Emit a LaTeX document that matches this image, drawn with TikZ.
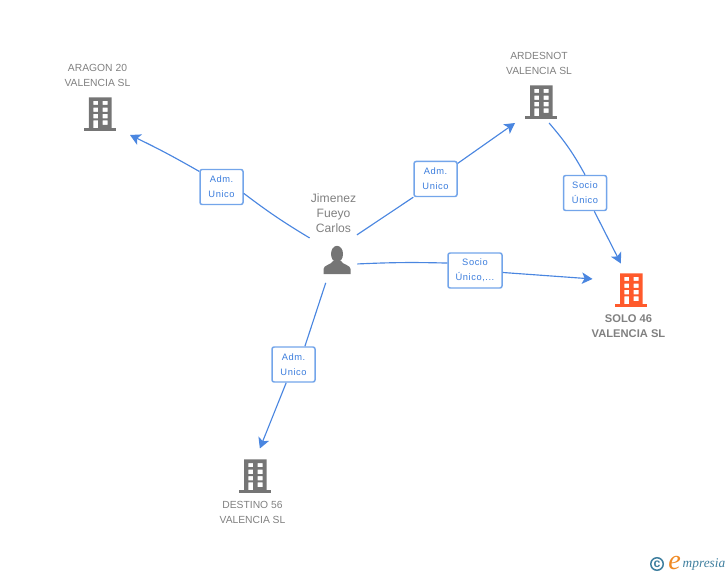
\documentclass[tikz,border=0pt]{standalone}
\usepackage{fontspec}
\setmainfont{Liberation Sans}
\newfontfamily\boxfont[LetterSpace=6]{Liberation Sans}
\newfontfamily\logofont{Liberation Serif}
\usepackage{tikz}
\usetikzlibrary{arrows.meta}
\definecolor{linkblue}{HTML}{4A86E0}
\definecolor{boxblue}{HTML}{73A5EA}
\definecolor{textblue}{HTML}{3B7DDD}
\definecolor{icongray}{HTML}{757575}
\definecolor{textgray}{HTML}{808080}
\definecolor{iconred}{HTML}{FF5A2C}
\definecolor{logoteal}{HTML}{3F7F9F}
\definecolor{logoorange}{HTML}{F08A24}
\tikzstyle{anchorpoint} = [rectangle, inner sep=0pt, outer sep=0pt]
\tikzstyle{building} = [rectangle, inner sep=0pt, outer sep=0pt, minimum width=1.2cm, minimum height=0.84cm]
\tikzstyle{company} = [rectangle, align=center, font=\fontsize{5.87pt}{8.5pt}\selectfont, text=textgray, inner sep=0pt]
\tikzstyle{mainCompany} = [rectangle, align=center, font=\fontsize{6.35pt}{8.5pt}\selectfont\bfseries, text=textgray, inner sep=0pt]
\tikzstyle{personName} = [rectangle, align=center, font=\fontsize{6.9pt}{8.5pt}\selectfont, text=textgray, inner sep=0pt]
\tikzstyle{role} = [rectangle, rounded corners=1.2pt, draw=boxblue, line width=0.85pt, fill=white, minimum width=0.86cm, minimum height=0.7cm, inner sep=0pt, align=center, text=textblue, font=\fontsize{5.3pt}{8.5pt}\boxfont]
\tikzstyle{edge} = [linkblue, line width=0.65pt]
\tikzstyle{edgeTip} = [linkblue, line width=0.65pt, -{Stealth[length=6pt, width=6.5pt, inset=1.5pt]}]
% icons are drawn in reference pixels around a node
\newcommand{\buildingicon}[2]{
\fill [#2, even odd rule, shift={(#1)}, x=0.02cm, y=-0.02cm] (-11,-16.7) rectangle (11.7,14.3)
  (-6.7,-13) rectangle (-2,-9) (2.7,-13) rectangle (7.7,-9)
  (-6.7,-6.3) rectangle (-2,-2) (2.7,-6.3) rectangle (7.7,-2)
  (-6.7,0) rectangle (-2,4.3) (2.7,0) rectangle (7.7,4.3)
  (-6.7,6.3) rectangle (-2,14.3) (2.7,6.3) rectangle (7.7,11);
\fill [#2, shift={(#1)}, x=0.02cm, y=-0.02cm] (-15.7,14.3) rectangle (16,16.7);
}
\newcommand{\personicon}[1]{
\fill [icongray, shift={(#1)}, x=0.02cm, y=-0.02cm] (0,-7) ellipse (6 and 8.2);
\fill [icongray, shift={(#1)}, x=0.02cm, y=-0.02cm] (-13.5,13) -- (-13.5,8) .. controls (-13.5,4) and (-6,4) .. (-4,0) -- (4,0) .. controls (6,4) and (13.5,4) .. (13.5,8) -- (13.5,13) -- cycle;
}
\begin{document}
\begin{tikzpicture}[node distance=1cm]
\useasboundingbox (0,0) rectangle (14.56,-11.5);
\node (person) [anchorpoint] at (6.74,-5.22) {};
\node (aragon) [building, below of=person, xshift=-4.74cm, yshift=3.94cm] {};
\node (ardesnot) [building, below of=person, xshift=4.08cm, yshift=4.18cm] {};
\node (solo) [building, minimum width=1.54cm, minimum height=1.06cm, below of=person, xshift=5.88cm, yshift=0.42cm] {};
\node (destino) [building, minimum height=1.1cm, below of=person, xshift=-1.64cm, yshift=-3.3cm] {};
\node (personName) [personName, below of=person, xshift=-0.07cm, yshift=1.96cm] {Jimenez\\Fueyo\\Carlos};
\node (aragonName) [company, below of=aragon, xshift=-0.05cm, yshift=1.78cm] {ARAGON 20\\VALENCIA SL};
\node (ardesnotName) [company, below of=ardesnot, xshift=-0.04cm, yshift=1.77cm] {ARDESNOT\\VALENCIA SL};
\node (soloName) [mainCompany, below of=solo, xshift=-0.05cm, yshift=0.28cm] {SOLO 46\\VALENCIA SL};
\node (destinoName) [company, below of=destino, xshift=-0.05cm, yshift=0.28cm] {DESTINO 56\\VALENCIA SL};
\node (roleAragon) [role, below of=person, xshift=-2.31cm, yshift=2.48cm] {Adm.\\Unico};
\node (roleArdesnot) [role, below of=person, xshift=1.97cm, yshift=2.64cm] {Adm.\\Unico};
\node (roleSolo) [role, minimum width=1.08cm, below of=person, xshift=2.76cm, yshift=0.81cm] {Socio\\Único,...};
\node (roleDestino) [role, below of=person, xshift=-0.87cm, yshift=-1.07cm] {Adm.\\Unico};
\node (roleSocio) [role, below of=ardesnot, xshift=0.88cm, yshift=-0.82cm] {Socio\\Único};
\node (personA) [anchorpoint, below of=person, xshift=-0.53cm, yshift=1.45cm] {};
\node (personB) [anchorpoint, below of=person, xshift=0.38cm, yshift=1.51cm] {};
\node (personS) [anchorpoint, below of=person, xshift=0.39cm, yshift=0.94cm] {};
\node (personD) [anchorpoint, below of=person, xshift=-0.22cm, yshift=0.58cm] {};
\buildingicon{aragon}{icongray}
\buildingicon{ardesnot}{icongray}
\buildingicon{destino}{icongray}
\buildingicon{solo}{iconred}
\personicon{person}
\draw [edge] (personA) to[bend left=3] (roleAragon.-16);
\draw [edgeTip] (roleAragon.145) to[bend right=2] (aragon.south east);
\draw [edge] (personB) -- (roleArdesnot.south west);
\draw [edgeTip] (roleArdesnot) -- (ardesnot.219);
\draw [edge] (personS) to[bend left=2] (roleSolo.165);
\draw [edgeTip] (roleSolo) -- (solo.164);
\draw [edge] (personD) -- (roleDestino.58);
\draw [edgeTip] (roleDestino) -- (destino.80);
\draw [edge] (ardesnot.-69) to[bend left=6] (roleSocio.north);
\draw [edgeTip] (roleSocio) -- (solo.111);
\node (logoCopy) [anchorpoint, circle, draw=logoteal, line width=0.85pt, minimum size=0.25cm, text=logoteal, font=\fontsize{7pt}{7pt}\selectfont\bfseries] at (13.14,-11.28) {c};
\node (logoE) [anchorpoint, text=logoorange, font=\fontsize{16pt}{16pt}\logofont\itshape] at (13.49,-11.26) {e};
\node (logoText) [anchorpoint, text=logoteal, font=\fontsize{7.6pt}{8pt}\logofont\itshape, right of=logoE, xshift=-0.41cm, yshift=-0.03cm] {mpresia};
\end{tikzpicture}
\end{document}
